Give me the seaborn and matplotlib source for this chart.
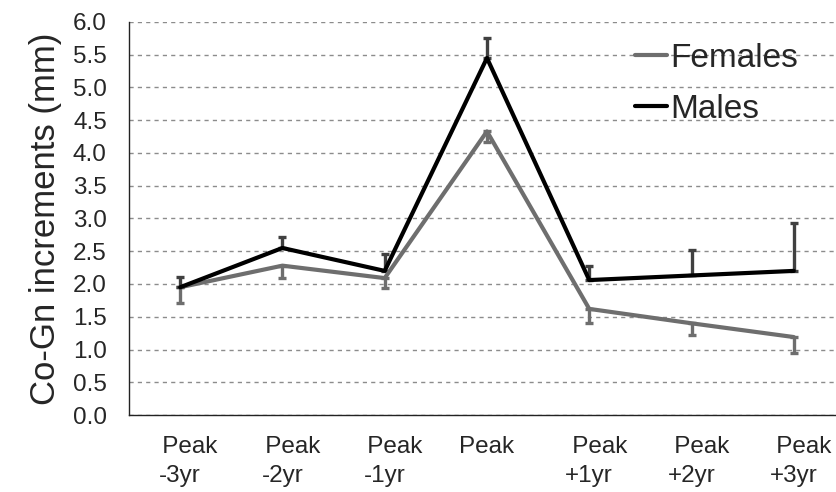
import numpy as np
import pandas as pd
import seaborn as sns
import matplotlib.pyplot as plt

# values
periods = ['Peak\n-3yr', 'Peak\n-2yr', 'Peak\n-1yr', 'Peak',
           'Peak\n+1yr', 'Peak\n+2yr', 'Peak\n+3yr']
females = [1.95, 2.28, 2.09, 4.33, 1.62, 1.40, 1.19]
males = [1.95, 2.55, 2.20, 5.45, 2.06, 2.13, 2.20]
females_err = [0.24, 0.19, 0.15, 0.16, 0.21, 0.18, 0.24]   # drawn downward
males_err = [0.16, 0.17, 0.26, 0.31, 0.22, 0.39, 0.73]     # drawn upward
y_ticks = [0.0, 0.5, 1.0, 1.5, 2.0, 2.5, 3.0, 3.5, 4.0, 4.5, 5.0, 5.5, 6.0]

sns.set_style('white')
plt.rcParams['font.family'] = ['Liberation Sans', 'DejaVu Sans']

df = pd.DataFrame({
    'x': list(range(len(periods))) * 2,
    'value': females + males,
    'group': ['Females'] * len(periods) + ['Males'] * len(periods),
})

fig = plt.figure(figsize=(8.37, 4.92), dpi=100)
ax = fig.add_axes([0.1541, 0.1565, 0.8554, 0.7988])

x = np.arange(len(periods))
ax.errorbar(x, females, yerr=[females_err, [0] * len(x)], fmt='none',
            ecolor='#6e6e6e', elinewidth=2.4, capsize=3, capthick=2.4, zorder=2)
ax.errorbar(x, males, yerr=[[0] * len(x), males_err], fmt='none',
            ecolor='#404040', elinewidth=2.4, capsize=3, capthick=2.4, zorder=2)

sns.lineplot(data=df, x='x', y='value', hue='group',
             palette={'Females': '#6e6e6e', 'Males': '#000000'},
             linewidth=3, ax=ax, zorder=3)

ax.set_xlim(-0.5, len(periods) - 0.5)
ax.set_ylim(0, 6.0)
ax.set_yticks(y_ticks)
ax.set_yticklabels([f'{t:.1f}' for t in y_ticks], fontsize=17.5)
ax.set_xticks(x)
# in the original the first line of two-line labels sits a bit to the right
shown = ['   ' + p if '\n' in p else p for p in periods]
ax.set_xticklabels(shown, fontsize=17.5, linespacing=1.4)
ax.set_xticks(np.arange(len(periods)) - 0.5, minor=True)
ax.tick_params(axis='x', which='major', length=0, pad=15)
ax.tick_params(axis='x', which='minor', length=8, width=1, direction='out')
ax.tick_params(axis='y', length=6, width=1, direction='out', pad=10)
ax.set_xlabel('')
ax.set_ylabel('Co-Gn increments (mm)', fontsize=25, labelpad=8)

ax.yaxis.grid(True, linestyle=(0, (3, 3)), color='#8c8c8c', linewidth=1)
ax.set_axisbelow(True)
for side in ['top', 'right']:
    ax.spines[side].set_visible(False)
for side in ['left', 'bottom']:
    ax.spines[side].set_color('#222222')
    ax.spines[side].set_linewidth(1)

ax.legend(title=None, frameon=False, fontsize=24, loc='upper left',
          bbox_to_anchor=(0.7587, 0.9126), bbox_transform=fig.transFigure,
          borderpad=0, borderaxespad=0, handlelength=0.95, handletextpad=0.1,
          labelspacing=0.6)

fig.savefig('out.png', dpi=100)
